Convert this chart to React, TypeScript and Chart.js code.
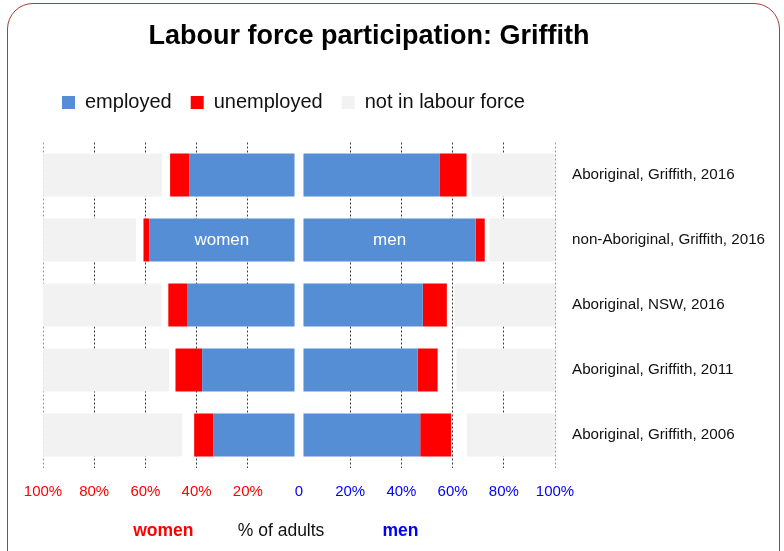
import { useEffect, useRef } from 'react';
import { Chart, registerables } from 'chart.js';

Chart.register(...registerables);

const categories = [
  'Aboriginal, Griffith, 2016',
  'non-Aboriginal, Griffith, 2016',
  'Aboriginal, NSW, 2016',
  'Aboriginal, Griffith, 2011',
  'Aboriginal, Griffith, 2006',
];

// % of adults (women)
const womenEmployed = [41.2, 56.8, 42.0, 36.1, 31.8];
const womenUnemployed = [7.4, 2.2, 7.3, 10.4, 7.4];
const womenNotStated = [3.1, 2.9, 2.6, 2.5, 4.7];
const womenNotInLabourForce = [46.5, 36.3, 46.4, 49.2, 54.3];

// % of adults (men)
const menEmployed = [53.3, 67.3, 46.6, 44.6, 45.6];
const menUnemployed = [10.4, 3.5, 9.4, 7.8, 12.1];
const menNotStated = [2.0, 1.8, 3.0, 7.4, 6.1];
const menNotInLabourForce = [32.5, 25.7, 39.3, 38.4, 34.4];

// blank spacer either side of the centre line
const centreGap = [1.75, 1.75, 1.75, 1.75, 1.75];

const tickValues = [-100, -80, -60, -40, -20, 0, 20, 40, 60, 80, 100];

const seriesNames = ['employed', 'unemployed', 'not in labour force'];

const FONT = '"Liberation Sans", Arial, Helvetica, sans-serif';
const BLUE = '#558ED5';
const RED = '#FF0000';
const GREY = '#F2F2F2';
const CLEAR = 'rgba(0,0,0,0)';

const neg = (a: number[]) => a.map((v) => -v);

export default function App() {
  const canvasRef = useRef<HTMLCanvasElement | null>(null);

  useEffect(() => {
    const canvas = canvasRef.current;
    if (!canvas) return;

    const mk = (label: string, data: number[], color: string, legend: boolean) => ({
      label,
      data,
      backgroundColor: color,
      borderWidth: 0,
      stack: 'all',
      xAxisID: 'x',
      yAxisID: 'y',
      showInLegend: legend,
      categoryPercentage: 1,
      barPercentage: 43 / 65,
    });

    const annotations = {
      id: 'annotations',
      afterLayout(chart: any) {
        // let the category labels on the right run to the canvas edge
        const ys = chart.scales.y;
        if (ys) ys.right = chart.width;
      },
      afterDatasetsDraw(chart: any) {
        const ctx = chart.ctx;
        ctx.save();
        ctx.fillStyle = '#FFFFFF';
        ctx.font = `17px ${FONT}`;
        ctx.textAlign = 'center';
        ctx.textBaseline = 'middle';
        const w = chart.getDatasetMeta(1).data[1];
        const m = chart.getDatasetMeta(6).data[1];
        if (w) {
          const p = w.getCenterPoint();
          ctx.fillText('women', p.x, p.y);
        }
        if (m) {
          const p = m.getCenterPoint();
          ctx.fillText('men', p.x, p.y);
        }
        ctx.restore();
      },
      afterDraw(chart: any) {
        const ctx = chart.ctx;
        const xs = chart.scales.x;
        const y = 531;
        ctx.save();
        ctx.textAlign = 'center';
        ctx.textBaseline = 'middle';
        ctx.font = `bold 17.5px ${FONT}`;
        ctx.fillStyle = RED;
        ctx.fillText('women', xs.getPixelForValue(-53), y);
        ctx.font = `17.5px ${FONT}`;
        ctx.fillStyle = '#111111';
        ctx.fillText('% of adults', xs.getPixelForValue(-7), y);
        ctx.font = `bold 17.5px ${FONT}`;
        ctx.fillStyle = '#0000FF';
        ctx.fillText('men', xs.getPixelForValue(39.6), y);
        ctx.restore();
      },
    };

    const chart = new Chart(canvas, {
      type: 'bar',
      data: {
        labels: categories,
        datasets: [
          mk('gap', neg(centreGap), CLEAR, false),
          mk(seriesNames[0], neg(womenEmployed), BLUE, true),
          mk(seriesNames[1], neg(womenUnemployed), RED, true),
          mk('not stated', neg(womenNotStated), CLEAR, false),
          mk(seriesNames[2], neg(womenNotInLabourForce), GREY, true),
          mk('gap (men)', centreGap, CLEAR, false),
          mk('employed (men)', menEmployed, BLUE, false),
          mk('unemployed (men)', menUnemployed, RED, false),
          mk('not stated (men)', menNotStated, CLEAR, false),
          mk('not in labour force (men)', menNotInLabourForce, GREY, false),
        ] as any,
      },
      options: {
        indexAxis: 'y',
        responsive: false,
        animation: false,
        devicePixelRatio: 1,
        layout: { padding: { left: 43, right: 89, top: 0, bottom: 40 } },
        scales: {
          x: {
            type: 'linear',
            axis: 'x',
            position: 'bottom',
            stacked: true,
            min: -100,
            max: 100,
            afterBuildTicks: (s: any) => {
              s.ticks = tickValues.map((v) => ({ value: v }));
            },
            afterFit: (s: any) => {
              s.height = 43.5;
            },
            grid: {
              drawTicks: false,
              lineWidth: 1,
              color: (c: any) =>
                c.tick && c.tick.value === 0
                  ? CLEAR
                  : Math.abs(c.tick?.value) === 100
                  ? '#9a9a9a'
                  : '#404040',
            },
            border: { display: false, dash: [2, 2] },
            ticks: {
              autoSkip: false,
              maxRotation: 0,
              padding: 15.5,
              font: { family: FONT, size: 15 },
              color: (c: any) => (c.tick.value < 0 ? RED : '#0000FF'),
              callback: (v: any) => (Number(v) === 0 ? '0' : Math.abs(Number(v)) + '%'),
            },
          },
          spacer: {
            type: 'linear',
            axis: 'x',
            position: 'top',
            display: true,
            grid: { display: false, drawTicks: false },
            ticks: { display: false },
            border: { display: false },
            afterFit: (s: any) => {
              s.height = 20;
            },
          },
          y: {
            type: 'category',
            position: 'right',
            stacked: true,
            afterFit: (s: any) => {
              s.width = 140;
            },
            grid: { display: false, drawTicks: false },
            border: { display: false },
            ticks: {
              padding: 17,
              font: { family: FONT, size: 15.2 },
              color: '#111111',
            },
          },
        } as any,
        plugins: {
          title: {
            display: true,
            text: 'Labour force participation: Griffith',
            color: '#000000',
            font: { family: FONT, size: 27, weight: 'bold' },
            padding: { top: 20.3, bottom: 20.8 },
          },
          legend: {
            display: true,
            position: 'top',
            align: 'start',
            labels: {
              boxWidth: 13,
              boxHeight: 13,
              padding: 19,
              color: '#111111',
              font: { family: FONT, size: 20 },
              filter: (item: any, data: any) =>
                !!data.datasets[item.datasetIndex].showInLegend,
            },
          },
          tooltip: { enabled: false },
        },
      },
      plugins: [annotations],
    } as any);

    return () => chart.destroy();
  }, []);

  return (
    <div
      style={{
        position: 'fixed',
        left: 0,
        top: 0,
        width: 784,
        height: 551,
        overflow: 'hidden',
        background: '#FFFFFF',
      }}
    >
      <div
        style={{
          position: 'absolute',
          left: 7,
          top: 3,
          width: 773,
          height: 640,
          border: '1.5px solid #A0403F',
          borderRadius: 26,
          boxSizing: 'border-box',
        }}
      />
      <canvas
        ref={canvasRef}
        width={784}
        height={551}
        style={{ position: 'absolute', left: 0, top: 0, width: 784, height: 551 }}
      />
    </div>
  );
}
